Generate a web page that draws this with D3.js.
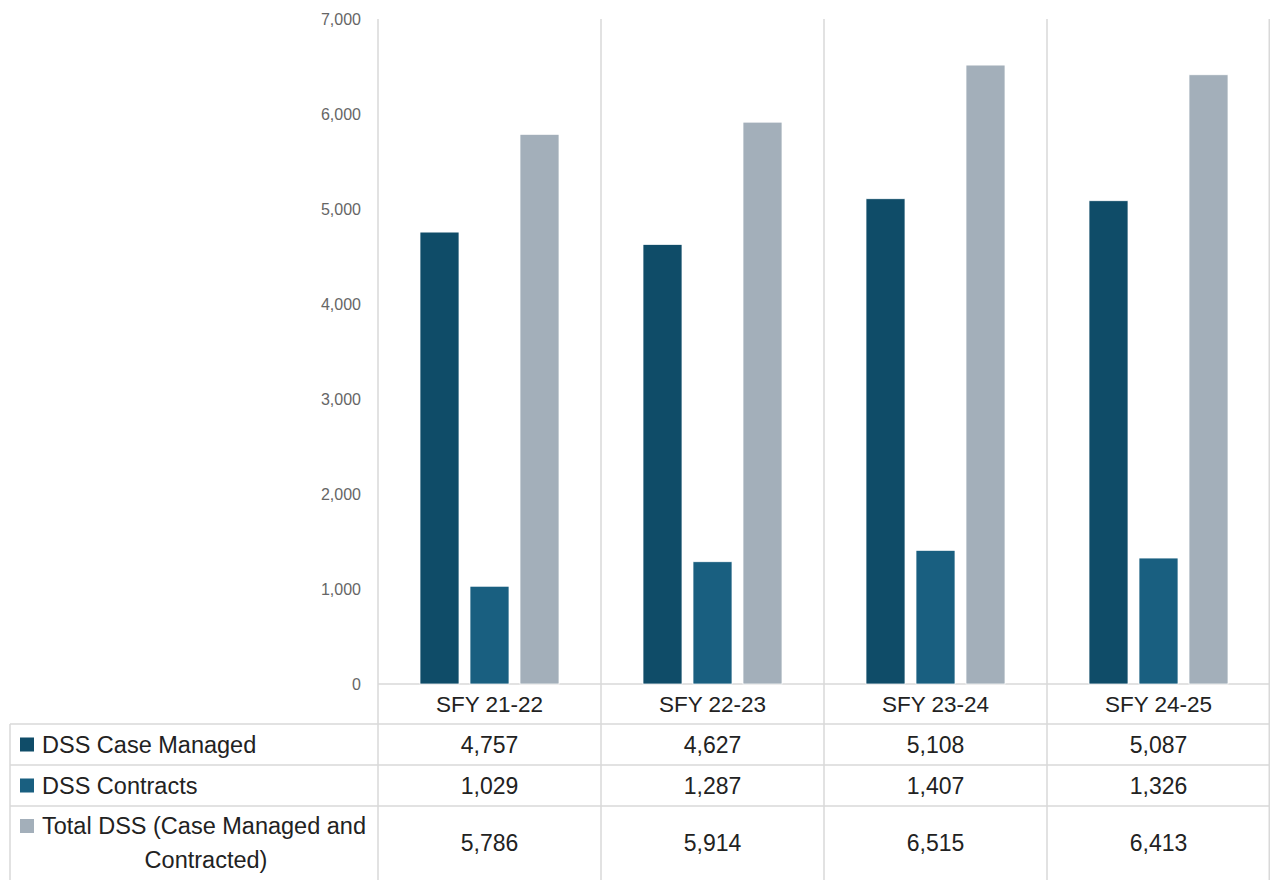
<!DOCTYPE html>
<html>
<head>
<meta charset="utf-8">
<script src="https://cdn.jsdelivr.net/npm/d3@7"></script>
<style>
  html, body { margin: 0; padding: 0; background: #ffffff; }
  svg { display: block; }
</style>
</head>
<body>
<svg id="chart" width="1270" height="880"></svg>
<script>
// Fiscal years and the three DSS series
const categories = ["SFY 21-22", "SFY 22-23", "SFY 23-24", "SFY 24-25"];
const seriesNames = ["DSS Case Managed", "DSS Contracts", "Total DSS (Case Managed and Contracted)"];
const caseManaged = [4757, 4627, 5108, 5087];
const contracts = [1029, 1287, 1407, 1326];
const totalDSS = [5786, 5914, 6515, 6413];
const yTicks = [0, 1000, 2000, 3000, 4000, 5000, 6000, 7000];
const colors = ["#0f4c68", "#195f80", "#a3afba"];

const seriesValues = [caseManaged, contracts, totalDSS];
const legendLines = [["DSS Case Managed"], ["DSS Contracts"], ["Total DSS (Case Managed and", "Contracted)"]];

const svg = d3.select("#chart");
const W = 1270, H = 880;
const plotLeft = 378, plotRight = 1270, plotTop = 19, baseY = 684;
const rowEdges = [724, 765, 806, 880];
const tableLeft = 10;
const gridColor = "#d9d9d9";
const font = "'Liberation Sans', Arial, sans-serif";
const textColor = "#222222";

const x0 = d3.scaleBand().domain(categories).range([plotLeft, plotRight]).padding(0);
const x1 = d3.scaleBand().domain(seriesNames).range([0, x0.bandwidth()])
  .paddingInner(0.22).paddingOuter(0.84);
const y = d3.scaleLinear().domain([0, 7000]).range([baseY, plotTop]);

// Y axis tick labels (no axis line)
const yAxis = d3.axisLeft(y).tickValues(yTicks).tickSize(0).tickPadding(17)
  .tickFormat(d3.format(","));
const yg = svg.append("g").attr("transform", `translate(${plotLeft},0)`).call(yAxis);
yg.select(".domain").remove();
yg.selectAll("text").attr("font-family", font).attr("font-size", 16).attr("fill", "#666666");

// Vertical column separators spanning chart and table
const colEdges = categories.map(c => x0(c)).concat([plotRight - 0.75]);
svg.append("g").selectAll("line").data(colEdges).join("line")
  .attr("x1", d => d).attr("x2", d => d)
  .attr("y1", plotTop).attr("y2", H)
  .attr("stroke", gridColor).attr("stroke-width", 1.5);

// Baseline
svg.append("line").attr("x1", plotLeft).attr("x2", plotRight)
  .attr("y1", baseY).attr("y2", baseY)
  .attr("stroke", gridColor).attr("stroke-width", 1.5);

// Table row lines
svg.append("g").selectAll("line").data(rowEdges.slice(0, 3)).join("line")
  .attr("x1", tableLeft).attr("x2", plotRight)
  .attr("y1", d => d).attr("y2", d => d)
  .attr("stroke", gridColor).attr("stroke-width", 1.5);
svg.append("line").attr("x1", tableLeft).attr("x2", tableLeft)
  .attr("y1", rowEdges[0]).attr("y2", H)
  .attr("stroke", gridColor).attr("stroke-width", 1.5);

// Bars
const groups = svg.append("g").selectAll("g").data(categories).join("g")
  .attr("transform", d => `translate(${x0(d)},0)`);
groups.selectAll("rect")
  .data((c, i) => seriesNames.map((s, k) => ({ s, k, v: seriesValues[k][i] })))
  .join("rect")
  .attr("x", d => x1(d.s))
  .attr("width", x1.bandwidth())
  .attr("y", d => y(d.v))
  .attr("height", d => baseY - y(d.v))
  .attr("fill", d => colors[d.k])
  .attr("stroke", "#ffffff").attr("stroke-width", 0.75);

// Category labels
svg.append("g").selectAll("text").data(categories).join("text")
  .attr("x", d => x0(d) + x0.bandwidth() / 2)
  .attr("y", (baseY + rowEdges[0]) / 2)
  .attr("dy", "0.35em")
  .attr("text-anchor", "middle")
  .attr("font-family", font).attr("font-size", 22.5).attr("fill", textColor)
  .text(d => d);

// Legend column with swatches, and the values per fiscal year
seriesNames.forEach((s, k) => {
  const top = rowEdges[k], bot = rowEdges[k + 1];
  const mid = (top + bot) / 2;
  const lines = legendLines[k];
  const lh = 34;
  const firstY = mid - (lines.length - 1) * lh / 2;
  svg.append("rect")
    .attr("x", 20).attr("y", firstY - 7).attr("width", 14).attr("height", 14)
    .attr("fill", colors[k]);
  lines.forEach((t, j) => {
    svg.append("text")
      .attr("x", j === 0 ? 42 : 206)
      .attr("y", firstY + j * lh)
      .attr("dy", "0.35em")
      .attr("text-anchor", j === 0 ? "start" : "middle")
      .attr("font-family", font).attr("font-size", 23.5).attr("fill", textColor)
      .text(t);
  });
  svg.append("g").selectAll("text").data(categories).join("text")
    .attr("x", c => x0(c) + x0.bandwidth() / 2)
    .attr("y", mid)
    .attr("dy", "0.35em")
    .attr("text-anchor", "middle")
    .attr("font-family", font).attr("font-size", 23).attr("fill", textColor)
    .text((c, i) => d3.format(",")(seriesValues[k][i]));
});
</script>
</body>
</html>
